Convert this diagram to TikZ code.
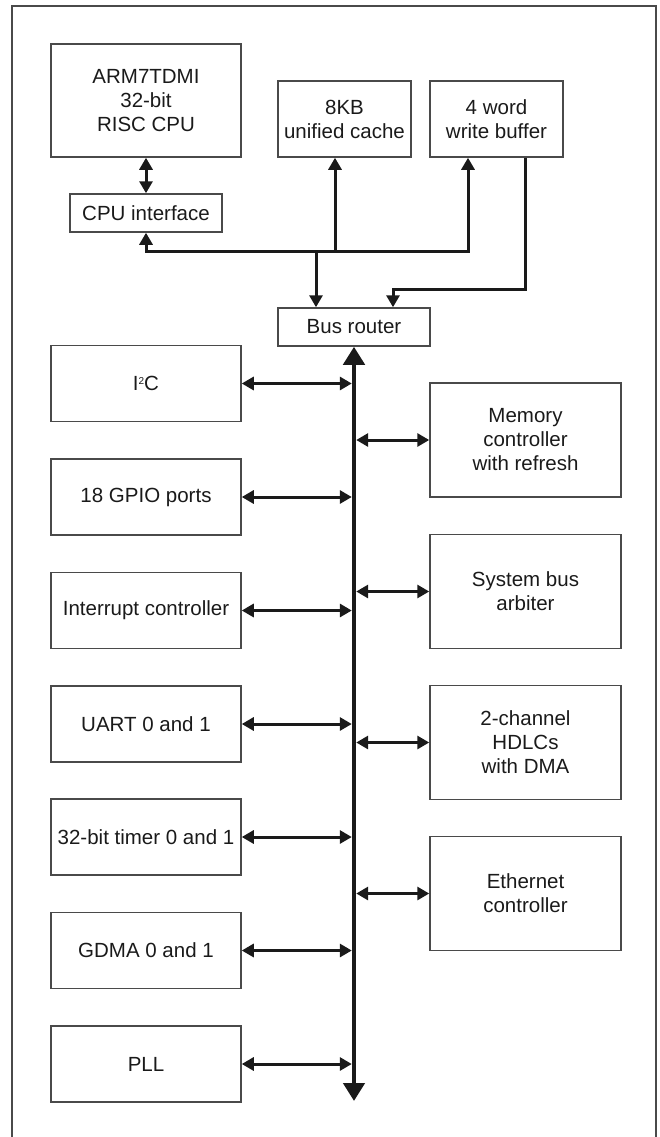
\documentclass[tikz,border=0pt]{standalone}
\usepackage{fontspec}
\setmainfont{Liberation Sans}
\usetikzlibrary{arrows.meta}
\definecolor{ink}{HTML}{1A1A1A}
\definecolor{boxline}{HTML}{4A4A4A}
\tikzset{
  blk/.style={draw=boxline, line width=1.5pt, rectangle, inner sep=0pt, align=center,
    text=ink, font=\fontsize{20.5pt}{24pt}\selectfont},
  conn/.style={draw=ink, line width=3pt},
  tipa/.tip={Triangle[length=12pt,width=13pt]},
  bothtips/.style={conn, tipa-tipa},
  onetip/.style={conn, -tipa},
  busline/.style={draw=ink, line width=4.5pt, {Triangle[length=18pt,width=21pt]}-{Triangle[length=18pt,width=21pt]}}
}
\begin{document}
\begin{tikzpicture}[x=1pt,y=-1pt]
\useasboundingbox (0,0) rectangle (660,1137);
% outer frame (open at the bottom)
\draw[draw=boxline, line width=2pt] (11.5,1145) -- (11.5,6.5) -- (656,6.5) -- (656,1145);

% top section
\node[blk, minimum width=190pt, minimum height=113pt] (cpu) at (146,100.5) {ARM7TDMI\\32-bit\\RISC CPU};
\node[blk, minimum width=133pt, minimum height=76pt] (cache) at (344.5,119) {8KB\\unified cache};
\node[blk, minimum width=133pt, minimum height=76pt] (wbuf) at (496.5,119) {4 word\\write buffer};
\node[blk, minimum width=152pt, minimum height=38pt] (cpuif) at (146,213) {CPU interface};
\node[blk, minimum width=152pt, minimum height=38pt] (router) at (354,327) {Bus router};

% left column
\node[blk, minimum width=190pt, minimum height=76pt] (i2c) at (146,383.5) {I\raisebox{0.55ex}{\fontsize{10pt}{10pt}\selectfont 2}C};
\node[blk, minimum width=190pt, minimum height=76pt] (gpio) at (146,497) {18 GPIO ports};
\node[blk, minimum width=190pt, minimum height=76pt] (intc) at (146,610.5) {Interrupt controller};
\node[blk, minimum width=190pt, minimum height=76pt] (uart) at (146,724) {UART 0 and 1};
\node[blk, minimum width=190pt, minimum height=76pt] (timer) at (146,837) {32-bit timer 0 and 1};
\node[blk, minimum width=190pt, minimum height=76pt] (gdma) at (146,950.5) {GDMA 0 and 1};
\node[blk, minimum width=190pt, minimum height=76pt] (pll) at (146,1064) {PLL};

% right column
\node[blk, minimum width=191pt, minimum height=114pt] (mem) at (525.5,440) {Memory\\controller\\with refresh};
\node[blk, minimum width=191pt, minimum height=114pt] (arb) at (525.5,591.5) {System bus\\arbiter};
\node[blk, minimum width=191pt, minimum height=114pt] (hdlc) at (525.5,742.5) {2-channel\\HDLCs\\with DMA};
\node[blk, minimum width=191pt, minimum height=114pt] (eth) at (525.5,893.5) {Ethernet\\controller};

% top connectors
\coordinate (jl) at (146,251);
\coordinate (jr) at (468,251);
\coordinate (jc) at (335,251);
\coordinate (jd) at (316,251);
\coordinate (wb1) at (525.5,289);
\coordinate (wb2) at (393,289);
\draw[bothtips] (cpu.south) -- (cpuif.north);
\draw[bothtips] (cpuif.south) -- (jl) -- (jr) -- (wbuf.south -| jr);
\draw[onetip] (jc) -- (cache.south -| jc);
\draw[onetip] (jd) -- (router.north -| jd);
\draw[onetip] (wbuf.south -| wb1) -- (wb1) -- (wb2) -- (router.north -| wb2);

% bus
\coordinate (busend) at (354,1101);
\draw[busline] (router.south) -- (busend);

% left connectors
\foreach \n in {i2c,gpio,intc,uart,timer,gdma,pll}
  \draw[bothtips, shorten >=2.2pt] (\n.east) -- (\n.east -| busend);
% right connectors
\foreach \n in {mem,arb,hdlc,eth}
  \draw[bothtips, shorten <=2.2pt] (\n.west -| busend) -- (\n.west);
\end{tikzpicture}
\end{document}
